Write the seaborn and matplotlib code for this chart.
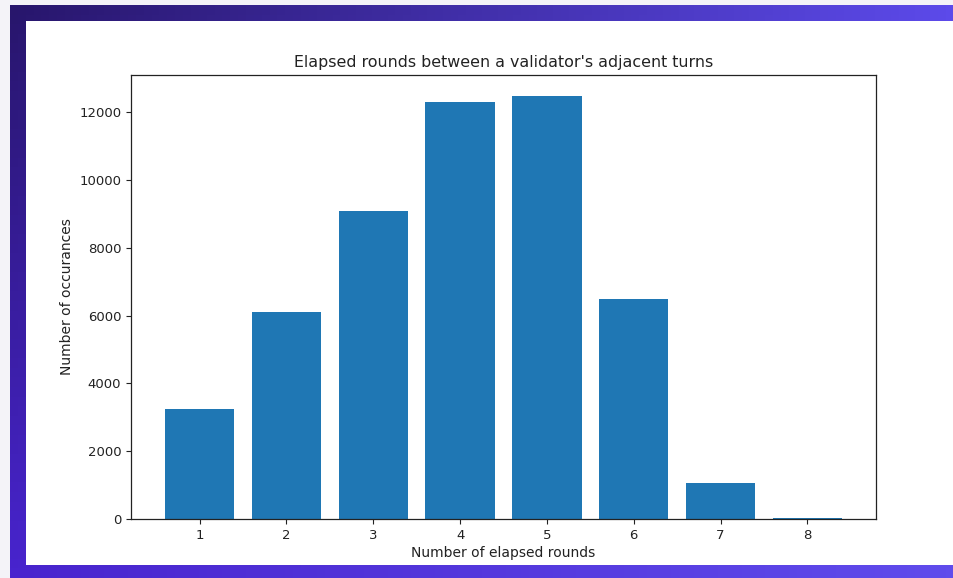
import numpy as np
import pandas as pd
import matplotlib
matplotlib.use("Agg")
import matplotlib.pyplot as plt
from matplotlib.patches import Rectangle
import seaborn as sns

# values
rounds = [1, 2, 3, 4, 5, 6, 7, 8]
occurrences = [3260, 6100, 9080, 12320, 12480, 6490, 1050, 40]

df = pd.DataFrame({"rounds": rounds, "count": occurrences})

plt.rcParams["font.family"] = ["DejaVu Sans"]

fig = plt.figure(figsize=(9.54, 5.78), dpi=100)
fig.patch.set_facecolor("#f4f3f8")

# purple gradient frame behind the white panel
bg = fig.add_axes([10 / 954, 0, 944 / 954, 573 / 578], zorder=-2)
h, w = 60, 120
tl = np.array([40, 22, 108]) / 255
tr = np.array([92, 74, 234]) / 255
bl = np.array([72, 36, 206]) / 255
br = np.array([96, 76, 236]) / 255
u = np.linspace(0, 1, w)[None, :, None]
v = np.linspace(0, 1, h)[:, None, None]
grad = (1 - v) * ((1 - u) * tl + u * tr) + v * ((1 - u) * bl + u * br)
bg.imshow(grad, aspect="auto", extent=[0, 1, 0, 1])
bg.set_axis_off()

fig.patches.append(Rectangle((26 / 954, 13 / 578), 1 - 26 / 954, 544 / 578,
                             transform=fig.transFigure, facecolor="white",
                             edgecolor="none", zorder=-1))

ax = fig.add_axes([131 / 954, 59 / 578, 745 / 954, 444 / 578])
sns.barplot(data=df, x="rounds", y="count", color="#1f77b4", saturation=1,
            width=0.8, native_scale=True, ax=ax)

ax.set_xlim(min(rounds) - 0.79, max(rounds) + 0.79)
ax.set_ylim(0, max(occurrences) * 1.05)
ax.set_xticks(rounds)
ax.set_xticklabels([str(r) for r in rounds])
ax.set_yticks([0, 2000, 4000, 6000, 8000, 10000, 12000])
ax.tick_params(labelsize=9.5, colors="#222222")
for s in ax.spines.values():
    s.set_visible(True)
    s.set_color("#222222")
    s.set_linewidth(0.9)

ax.set_title("Elapsed rounds between a validator's adjacent turns", fontsize=11.4, color="#222222")
ax.set_xlabel("Number of elapsed rounds", fontsize=10, color="#222222", labelpad=3)
ax.set_ylabel("Number of occurances", fontsize=10, color="#222222")

plt.savefig("out.png", dpi=100)
plt.close()
